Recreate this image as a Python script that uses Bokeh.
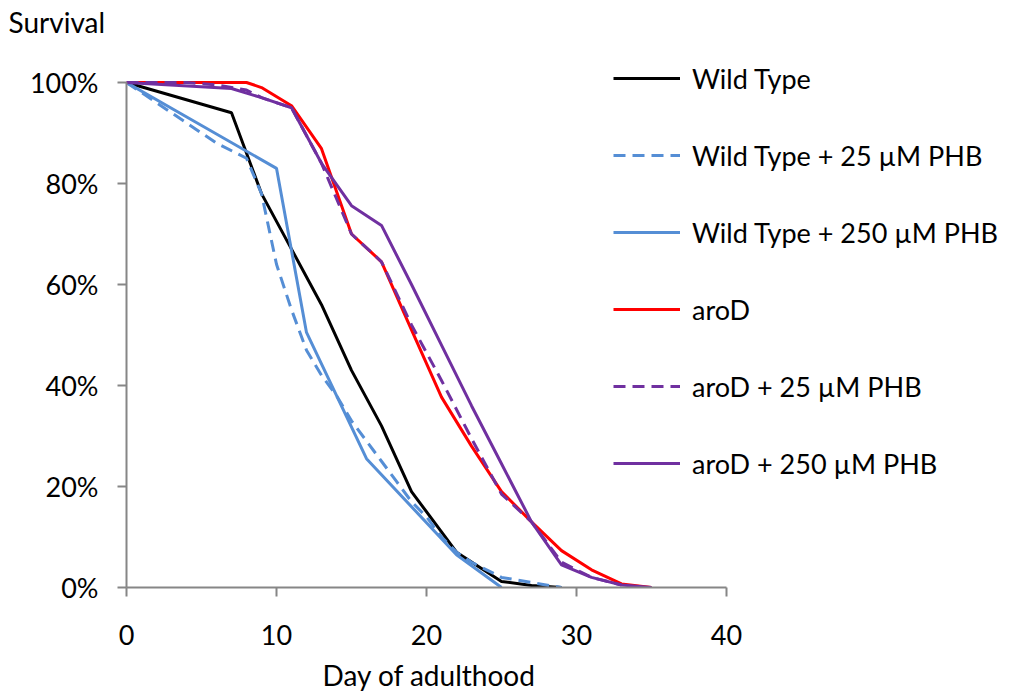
from bokeh.plotting import figure
from bokeh.models import Range1d, FixedTicker, PrintfTickFormatter, Legend, LegendItem, Title
from bokeh.embed import file_html
from bokeh.resources import INLINE

# ---- data (day of adulthood, survival %) ----
wt_days = [0, 7, 9, 11, 13, 15, 17, 19, 21, 22, 25, 27, 29]
wt_surv = [100, 94, 78, 67, 56, 43, 32, 19, 11, 7, 1.2, 0.4, 0]

wt25_days = [0, 2, 4, 6, 8, 9, 10, 11, 12, 13, 14, 15, 16, 17, 18, 19, 20, 21, 22, 23, 25, 27, 29]
wt25_surv = [100, 96, 92, 88, 85, 78, 64, 55, 47, 42, 38, 33, 29, 25, 21, 17, 14, 10, 7, 5, 2, 1, 0]

wt250_days = [0, 10, 12, 16, 22, 25]
wt250_surv = [100, 83, 50.5, 25.5, 6.5, 0]

aro_days = [0, 2, 4, 6, 8, 9, 11, 13, 15, 17, 19, 21, 23, 25, 27, 29, 31, 33, 35]
aro_surv = [100, 100, 100, 100, 100, 99, 95.4, 86.9, 70, 64.5, 51, 37.7, 28, 19, 13, 7.3, 3.5, 0.7, 0]

aro25_days = [0, 2, 4, 6, 8, 9, 11, 13, 15, 17, 19, 21, 23, 25, 27, 29, 31, 33]
aro25_surv = [100, 100, 100, 99.5, 98.5, 97, 95, 84, 70, 64.5, 52, 41, 29.5, 18.5, 13, 5, 2, 0.5]

aro250_days = [0, 7, 9, 11, 13, 15, 17, 19, 21, 23, 25, 27, 29, 31, 33, 35]
aro250_surv = [100, 98.8, 97, 95, 84, 75.6, 71.7, 60, 48, 36, 24.5, 13, 4.5, 2, 0.5, 0]

labels = ["Wild Type", "Wild Type + 25 \u00b5M PHB", "Wild Type + 250 \u00b5M PHB",
          "aroD", "aroD + 25 \u00b5M PHB", "aroD + 250 \u00b5M PHB"]
x_ticks = [0, 10, 20, 30, 40]
y_ticks = [0, 20, 40, 60, 80, 100]

FONT = "Lato"
GRAY = "#868686"

p = figure(frame_width=880, frame_height=547,
           min_border_left=126, min_border_right=3, min_border_top=40, min_border_bottom=105,
           x_range=Range1d(0, 880 / 15.0), y_range=Range1d(0, 547 / 5.05),
           output_backend="svg", toolbar_location=None, background_fill_color="white",
           border_fill_color="white")
p.outline_line_color = None
p.xgrid.visible = False
p.ygrid.visible = False

series = [
    (wt_days, wt_surv, "#000000", "solid"),
    (wt25_days, wt25_surv, "#558ED5", "12 7"),
    (wt250_days, wt250_surv, "#558ED5", "solid"),
    (aro_days, aro_surv, "#FF0000", "solid"),
    (aro25_days, aro25_surv, "#7030A0", "12 7"),
    (aro250_days, aro250_surv, "#7030A0", "solid"),
]
renderers = []
for xs, ys, col, dash in series:
    r = p.line(xs, ys, line_color=col, line_width=3, line_dash=dash)
    renderers.append(r)

for ax in (p.xaxis[0], p.yaxis[0]):
    ax.axis_line_color = GRAY
    ax.axis_line_width = 2
    ax.major_tick_line_color = GRAY
    ax.major_tick_line_width = 2
    ax.major_tick_out = 9
    ax.major_tick_in = 0
    ax.minor_tick_out = 0
    ax.minor_tick_in = 0
    ax.major_label_text_font = FONT
    ax.major_label_text_font_size = "27px"
    ax.major_label_text_color = "black"

p.xaxis.bounds = (0, 40)
p.yaxis.bounds = (0, 100)
p.xaxis.ticker = FixedTicker(ticks=x_ticks)
p.yaxis.ticker = FixedTicker(ticks=y_ticks)
p.yaxis.formatter = PrintfTickFormatter(format="%d%%")
p.xaxis.major_label_standoff = 28
p.yaxis.major_label_standoff = 19

items = [LegendItem(label=l, renderers=[r]) for l, r in zip(labels, renderers)]
legend = Legend(items=items, location=(487, 107), orientation="vertical",
                background_fill_alpha=0, border_line_color=None,
                padding=0, margin=0, spacing=43,
                glyph_width=67, glyph_height=34, label_height=34,
                label_standoff=12,
                label_text_font=FONT, label_text_font_size="27px", label_text_color="black")
p.add_layout(legend, "center")

p.title.text = "Survival"
p.title.align = "left"
p.title.offset = -118
p.title.standoff = 4
p.title.text_font = FONT
p.title.text_font_size = "28px"
p.title.text_font_style = "normal"
p.title.text_color = "black"

xlabel = Title(text="Day of adulthood", align="left", offset=196, standoff=16,
               text_font=FONT, text_font_size="28px", text_font_style="normal",
               text_color="black")
p.add_layout(xlabel, "below")

open("out.html", "w").write(file_html(p, INLINE))
